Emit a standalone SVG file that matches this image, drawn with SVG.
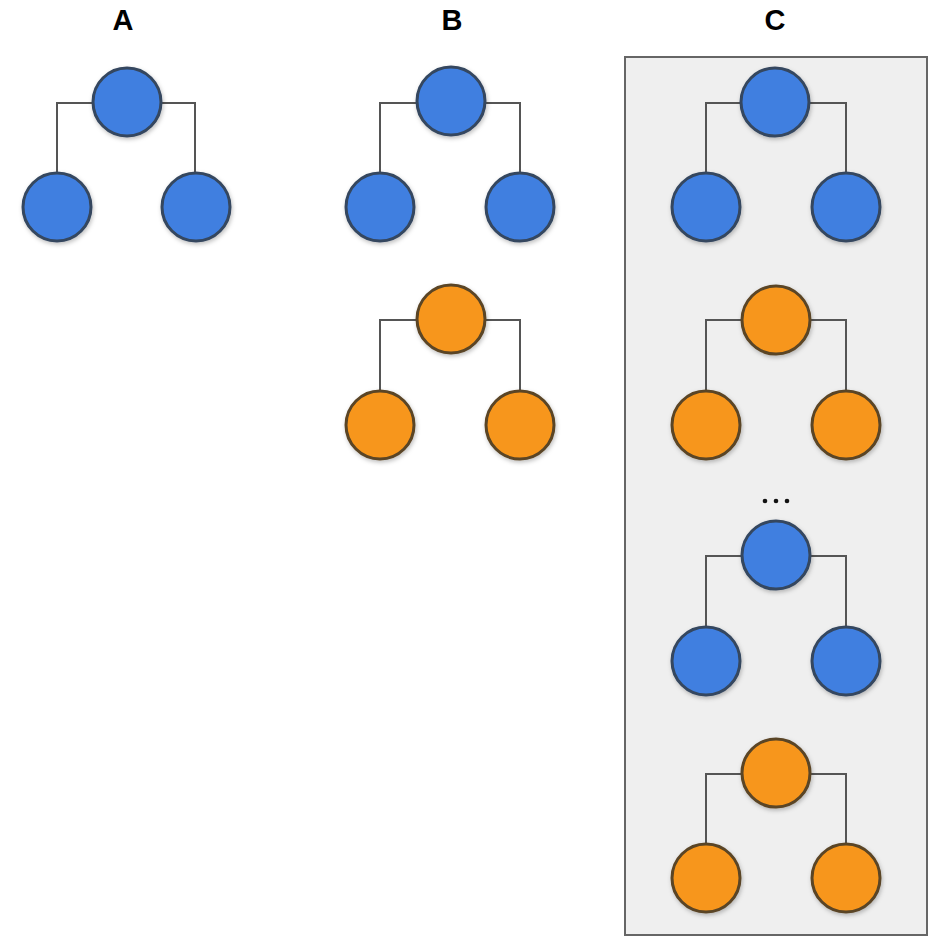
<svg xmlns="http://www.w3.org/2000/svg" width="945" height="944" viewBox="0 0 945 944">
<style>
.lbl{font-family:"Liberation Sans",Arial,sans-serif;font-weight:bold;font-size:29px;fill:#000;text-anchor:middle}
.b{fill:#3f7fe0;stroke:#34465e;stroke-width:3;filter:url(#sh)}
.o{fill:#f7961b;stroke:#5a4425;stroke-width:3;filter:url(#sh)}
.ln{fill:none;stroke:#555;stroke-width:2}
</style>
<defs>
<filter id="sh" x="-20%" y="-20%" width="150%" height="150%">
<feDropShadow dx="1" dy="2" stdDeviation="2" flood-color="#000" flood-opacity="0.25"/>
</filter>
</defs>
<rect width="945" height="944" fill="#fff"/>
<rect x="625" y="57" width="302" height="878" fill="#efefef" stroke="#666" stroke-width="2"/>
<text class="lbl" x="123" y="30">A</text>
<text class="lbl" x="452" y="30">B</text>
<text class="lbl" x="775" y="30">C</text>
<g id="connectors">
<path class="ln" d="M57,172V103H195V172"/>
<path class="ln" d="M380,172V103H520V172"/>
<path class="ln" d="M380,390V320H520V390"/>
<path class="ln" d="M706,172V103H846V172"/>
<path class="ln" d="M706,390V320H846V390"/>
<path class="ln" d="M706,626V556H846V626"/>
<path class="ln" d="M706,843V774H846V843"/>
</g>
<g id="treeA">
<circle id="a1" class="b" cx="127" cy="102" r="34"/>
<circle id="a2" class="b" cx="57" cy="207" r="34"/>
<circle id="a3" class="b" cx="196" cy="207" r="34"/>
</g>
<g id="treeB1">
<circle id="b1" class="b" cx="451" cy="101" r="34"/>
<circle id="b2" class="b" cx="380" cy="207" r="34"/>
<circle id="b3" class="b" cx="520" cy="207" r="34"/>
</g>
<g id="treeB2">
<circle id="b4" class="o" cx="451" cy="319" r="34"/>
<circle id="b5" class="o" cx="380" cy="425" r="34"/>
<circle id="b6" class="o" cx="520" cy="425" r="34"/>
</g>
<g id="treeC1">
<circle id="c1" class="b" cx="775" cy="102" r="34"/>
<circle id="c2" class="b" cx="706" cy="207" r="34"/>
<circle id="c3" class="b" cx="846" cy="207" r="34"/>
</g>
<g id="treeC2">
<circle id="c4" class="o" cx="776" cy="320" r="34"/>
<circle id="c5" class="o" cx="706" cy="425" r="34"/>
<circle id="c6" class="o" cx="846" cy="425" r="34"/>
</g>
<g id="ellipsis" fill="#111">
<circle cx="765" cy="501" r="2.3"/>
<circle cx="776" cy="501" r="2.3"/>
<circle cx="787" cy="501" r="2.3"/>
</g>
<g id="treeC3">
<circle id="c7" class="b" cx="776" cy="555" r="34"/>
<circle id="c8" class="b" cx="706" cy="661" r="34"/>
<circle id="c9" class="b" cx="846" cy="661" r="34"/>
</g>
<g id="treeC4">
<circle id="c10" class="o" cx="776" cy="773" r="34"/>
<circle id="c11" class="o" cx="706" cy="878" r="34"/>
<circle id="c12" class="o" cx="846" cy="878" r="34"/>
</g>
</svg>
